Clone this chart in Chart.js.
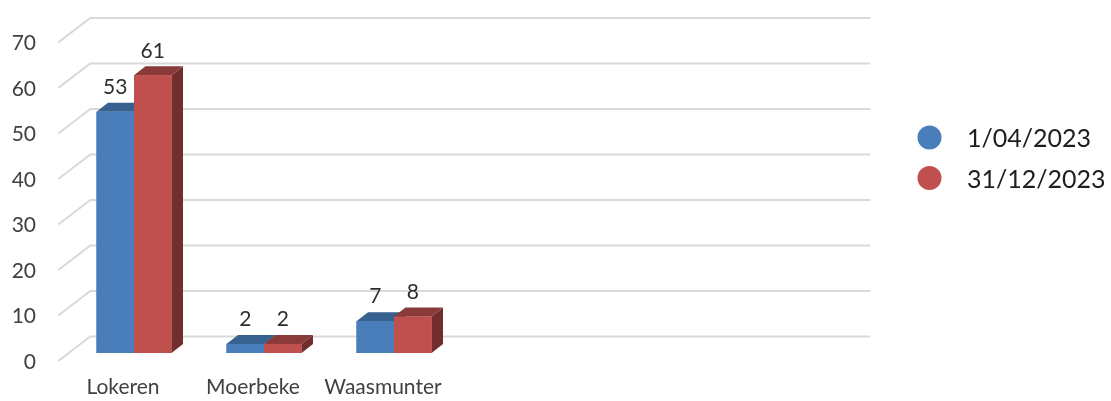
<!DOCTYPE html>
<html>
<head>
<meta charset="utf-8">
<script src="https://cdn.jsdelivr.net/npm/chart.js@4/dist/chart.umd.min.js"></script>
<style>
  html, body { margin: 0; padding: 0; background: #ffffff; }
  #wrap { width: 1111px; height: 401px; }
</style>
</head>
<body>
<div id="wrap"><canvas id="chart" width="1111" height="401"></canvas></div>
<script>
// Categories (the last three slots are empty on the axis)
const categories = ['Lokeren', 'Moerbeke', 'Waasmunter', '', '', ''];
// Series names
const seriesNames = ['1/04/2023', '31/12/2023'];
// Series values per category
const valuesApril = [53, 2, 7, null, null, null];
const valuesDecember = [61, 2, 8, null, null, null];
// Value axis range and tick step
const yMin = 0;
const yMax = 70;
const yStep = 10;

// Face colours for each series: front, top, side
const faceColors = [
  { front: '#4a7ebb', top: '#37618e', side: '#2c4f76' },
  { front: '#c0504d', top: '#8b3a3a', side: '#722d2d' }
];

// Depth vectors relative to the bar front plane
const BAR_DEPTH = { dx: 11.5, dy: -9 };
const WALL_DEPTH = { dx: 21.3, dy: -16.5 };
const FLOOR_FRONT = { dx: -10.7, dy: 8 };

const FONT = 'Lato, "Open Sans", sans-serif';

// Back wall grid lines with the diagonal side-wall segments
const wallPlugin = {
  id: 'wall3d',
  beforeDatasetsDraw(chart) {
    const { ctx, chartArea, scales } = chart;
    const y = scales.y;
    ctx.save();
    ctx.strokeStyle = '#d9d9d9';
    ctx.lineWidth = 2;
    y.ticks.forEach(t => {
      const py = y.getPixelForValue(t.value);
      ctx.beginPath();
      ctx.moveTo(chartArea.left + FLOOR_FRONT.dx, py + FLOOR_FRONT.dy);
      ctx.lineTo(chartArea.left + WALL_DEPTH.dx, py + WALL_DEPTH.dy);
      ctx.lineTo(chartArea.right + WALL_DEPTH.dx, py + WALL_DEPTH.dy);
      ctx.stroke();
    });
    ctx.restore();
  }
};

// Each bar drawn as a box: side, top and front faces
const boxPlugin = {
  id: 'bars3d',
  afterDatasetsDraw(chart) {
    const { ctx } = chart;
    const metas = chart.data.datasets.map((d, i) => chart.getDatasetMeta(i));
    ctx.save();
    categories.forEach((c, idx) => {
      metas.forEach((meta, di) => {
        const el = meta.data[idx];
        const v = chart.data.datasets[di].data[idx];
        if (!el || v === null || v === undefined) return;
        const p = el.getProps(['x', 'y', 'base', 'width'], true);
        const l = p.x - p.width / 2, r = p.x + p.width / 2;
        const t = p.y, b = p.base;
        const dx = BAR_DEPTH.dx, dy = BAR_DEPTH.dy;
        const col = faceColors[di];
        // side
        ctx.fillStyle = col.side;
        ctx.beginPath();
        ctx.moveTo(r, t); ctx.lineTo(r + dx, t + dy);
        ctx.lineTo(r + dx, b + dy); ctx.lineTo(r, b);
        ctx.closePath(); ctx.fill();
        // top
        ctx.fillStyle = col.top;
        ctx.beginPath();
        ctx.moveTo(l, t); ctx.lineTo(l + dx, t + dy);
        ctx.lineTo(r + dx, t + dy); ctx.lineTo(r, t);
        ctx.closePath(); ctx.fill();
        // front
        ctx.fillStyle = col.front;
        ctx.fillRect(l, t, r - l, b - t);
      });
    });
    ctx.restore();
  }
};

// Value labels above each bar
const valueLabelPlugin = {
  id: 'valueLabels',
  afterDatasetsDraw(chart) {
    const { ctx } = chart;
    ctx.save();
    ctx.font = '21px ' + FONT;
    ctx.fillStyle = '#2e2e2e';
    ctx.textAlign = 'center';
    ctx.textBaseline = 'middle';
    chart.data.datasets.forEach((ds, di) => {
      const meta = chart.getDatasetMeta(di);
      ds.data.forEach((v, idx) => {
        if (v === null || v === undefined) return;
        const p = meta.data[idx].getProps(['x', 'y'], true);
        ctx.fillText(String(v), p.x, p.y - 24.5);
      });
    });
    ctx.restore();
  }
};

// Legend with round markers at the right
const sideLegendPlugin = {
  id: 'sideLegend',
  afterDraw(chart) {
    const { ctx } = chart;
    const x0 = 929.5, y0 = 137.5, row = 40.5, radius = 12;
    ctx.save();
    chart.data.datasets.forEach((ds, i) => {
      const cy = y0 + i * row;
      ctx.fillStyle = ds.backgroundColor;
      ctx.beginPath();
      ctx.arc(x0, cy, radius, 0, Math.PI * 2);
      ctx.fill();
      ctx.font = '25px ' + FONT;
      ctx.fillStyle = '#1e1e1e';
      ctx.textAlign = 'left';
      ctx.textBaseline = 'middle';
      ctx.fillText(ds.label, 967, cy + 1.5);
    });
    ctx.restore();
  }
};

new Chart(document.getElementById('chart'), {
  type: 'bar',
  data: {
    labels: categories,
    datasets: [
      { label: seriesNames[0], data: valuesApril, backgroundColor: faceColors[0].front },
      { label: seriesNames[1], data: valuesDecember, backgroundColor: faceColors[1].front }
    ]
  },
  options: {
    responsive: false,
    animation: false,
    devicePixelRatio: 1,
    layout: { padding: { top: 34.4, right: 262, bottom: 0, left: 0 } },
    datasets: { bar: { categoryPercentage: 0.577, barPercentage: 1 } },
    plugins: {
      legend: { display: false },
      tooltip: { enabled: false }
    },
    scales: {
      x: {
        grid: { display: false },
        border: { display: false },
        ticks: {
          color: '#404040',
          font: { family: FONT, size: 21 },
          padding: 14,
          labelOffset: -11,
          maxRotation: 0,
          autoSkip: false
        },
        afterFit(scale) {
          scale.height = 48;
          scale.paddingLeft = 0;
          scale.paddingRight = 0;
        }
      },
      y: {
        min: yMin,
        max: yMax,
        grid: { display: false },
        border: { display: false },
        ticks: {
          stepSize: yStep,
          color: '#404040',
          font: { family: FONT, size: 21 },
          padding: 25,
          labelOffset: 9
        },
        afterFit(scale) {
          scale.width = 69;
          scale.paddingTop = 0;
          scale.paddingBottom = 0;
        }
      }
    }
  },
  plugins: [wallPlugin, boxPlugin, valueLabelPlugin, sideLegendPlugin]
});
</script>
</body>
</html>
